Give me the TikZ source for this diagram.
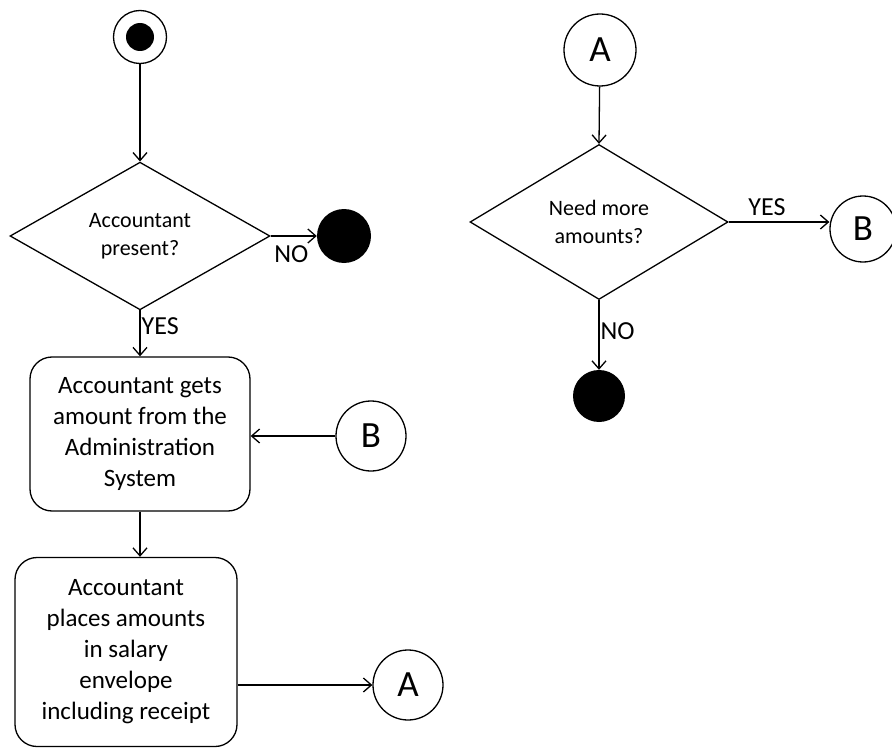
\documentclass[tikz,border=0pt]{standalone}
\usepackage{fontspec}
\setmainfont{Carlito}
\usetikzlibrary{shapes.geometric,arrows.meta,positioning}

\begin{document}
\begin{tikzpicture}[x=1pt,y=-1pt,
    flow/.style={-{Straight Barb[length=8pt,width=14pt]}, line width=1.3pt},
    actbox/.style={draw, rounded corners=22pt, line width=1.3pt, align=center,
      inner sep=0pt, font=\fontsize{25}{31}\selectfont},
    choice/.style={draw, diamond, line width=1.3pt, align=center, inner sep=0pt,
      font=\fontsize{22}{28}\selectfont},
    conn/.style={draw, circle, line width=1.3pt, inner sep=0pt,
      font=\fontsize{37}{37}\selectfont},
    stopdot/.style={fill, circle, inner sep=0pt},
    lbl/.style={inner sep=2pt, font=\fontsize{26}{26}\selectfont}]
  \useasboundingbox (0,0) rectangle (892,749);
  % Left flow
  \node[draw, circle, line width=1.3pt, minimum size=53pt, inner sep=0pt] (start) at (140,37) {};
  \fill (start.center) circle (14);
  \node[choice, minimum width=260pt, minimum height=130pt] (present) at (140,236)
    {Accountant\\present?};
  \node[stopdot, minimum size=54pt] (stopA) at (344,236) {};
  \node[actbox, minimum width=220pt, minimum height=154pt] (getamount) at (140,434)
    {Accountant gets\\amount from the\\Administration\\System};
  \node[actbox, minimum width=222pt, minimum height=189pt] (envelope) at (126,652)
    {Accountant\\places amounts\\in salary\\envelope\\including receipt};
  \node[conn, minimum size=70pt] (inB) at (371,436) {B};
  \node[conn, minimum size=70pt] (outA) at (408,685) {A};
  % Right flow
  \node[conn, minimum size=72pt] (inA) at (600,50) {A};
  \node[choice, minimum width=258pt, minimum height=155pt] (more) at (599,222)
    {Need more\\amounts?};
  \node[conn, minimum size=66pt] (outB) at (863,229) {B};
  \node[stopdot, minimum size=52pt] (stopB) at (599,396) {};
  % Connectors
  \draw[flow] (start) -- (present.north);
  \draw[flow] (present.east) -- node[lbl, below=7pt, pos=0.45] {NO} (stopA);
  \draw[flow] (present.south) -- node[lbl, anchor=west, pos=0.35, inner sep=1pt] {YES} (getamount.north);
  \draw[flow] (inB) -- (inB -| getamount.east);
  \draw[flow] (getamount.south) -- (getamount.south |- envelope.north);
  \draw[flow] (outA -| envelope.east) -- (outA);
  \draw[flow] (inA) -- (more.north);
  \draw[flow] (more.east) -- node[lbl, above=4pt, pos=0.38] {YES} (more.east -| outB.west);
  \draw[flow] (more.south) -- node[lbl, anchor=west, pos=0.45, inner sep=1pt] {NO} (stopB);
\end{tikzpicture}
\end{document}
